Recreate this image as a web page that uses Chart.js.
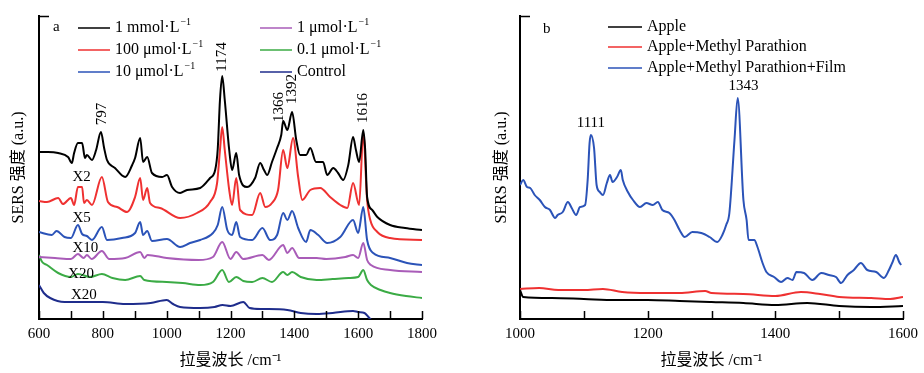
<!DOCTYPE html>
<html>
<head>
<meta charset="utf-8">
<script src="https://cdn.jsdelivr.net/npm/chart.js@4/dist/chart.umd.min.js"></script>
<style>
  body { margin: 0; background: #fff; }
  #wrapA, #wrapB { position: absolute; top: 0; width: 462px; height: 373px; }
  #wrapA { left: 0; }
  #wrapB { left: 462px; }
</style>
</head>
<body>
<div id="wrapA"><canvas id="chartA" width="462" height="373"></canvas></div>
<div id="wrapB"><canvas id="chartB" width="462" height="373"></canvas></div>
<script>
// panel a: Raman shift (cm-1) and intensity (a.u.) per concentration
const wnMm1 = [600, 628, 660, 691, 703, 710, 722, 735, 744, 750, 766, 779, 794, 804, 813, 838, 870, 892, 901, 917, 926, 939, 954, 986, 1001, 1017, 1042, 1064, 1105, 1136, 1152, 1160, 1167, 1174, 1182, 1196, 1205, 1218, 1227, 1252, 1277, 1293, 1305, 1315, 1330, 1346, 1359, 1365, 1378, 1393, 1406, 1418, 1437, 1450, 1468, 1490, 1503, 1522, 1537, 1553, 1569, 1584, 1593, 1603, 1616, 1622, 1628, 1644, 1660, 1700, 1747, 1800];
const valMm1 = [167, 167, 166, 162, 156, 166, 176, 176, 161, 164, 159, 169, 187, 171, 159, 151, 142, 154, 161, 181, 157, 162, 146, 142, 144, 132, 126, 129, 131, 141, 149, 170, 219, 243, 219, 169, 149, 166, 144, 132, 141, 156, 149, 144, 157, 171, 184, 198, 189, 207, 179, 164, 164, 171, 157, 157, 144, 151, 146, 139, 154, 182, 169, 157, 189, 169, 122, 109, 102, 94, 91, 89];

const wnUm100 = [600, 625, 660, 675, 700, 710, 722, 735, 741, 750, 766, 797, 816, 845, 876, 901, 917, 926, 939, 948, 979, 1042, 1095, 1136, 1158, 1167, 1174, 1182, 1196, 1205, 1218, 1230, 1268, 1293, 1309, 1330, 1349, 1365, 1378, 1396, 1412, 1425, 1450, 1481, 1512, 1544, 1566, 1584, 1603, 1616, 1628, 1638, 1660, 1700, 1800];
const valUm100 = [118, 117, 121, 115, 121, 114, 132, 132, 116, 119, 114, 142, 117, 112, 107, 122, 141, 119, 131, 116, 111, 101, 106, 117, 136, 169, 192, 169, 129, 114, 141, 109, 104, 126, 112, 116, 129, 169, 151, 181, 142, 119, 129, 131, 122, 114, 111, 136, 114, 186, 119, 99, 87, 81, 79];

const wnUm10 = [600, 640, 655, 680, 700, 722, 735, 750, 766, 797, 813, 860, 901, 917, 926, 939, 954, 1001, 1042, 1073, 1105, 1145, 1160, 1174, 1190, 1205, 1218, 1230, 1268, 1300, 1324, 1346, 1365, 1378, 1393, 1412, 1437, 1450, 1475, 1503, 1544, 1584, 1600, 1616, 1628, 1647, 1700, 1753, 1800];
const valUm10 = [87, 84, 88, 82, 81, 94, 85, 83, 79, 92, 79, 81, 86, 97, 84, 88, 78, 80, 72, 76, 79, 86, 94, 112, 89, 84, 97, 82, 79, 91, 79, 84, 106, 99, 108, 91, 77, 89, 84, 76, 82, 99, 86, 112, 79, 66, 61, 56, 54];

const wnUm1 = [600, 650, 700, 722, 740, 750, 765, 797, 820, 870, 917, 930, 940, 1000, 1100, 1145, 1174, 1200, 1218, 1240, 1300, 1320, 1365, 1378, 1393, 1415, 1470, 1500, 1560, 1584, 1600, 1616, 1628, 1640, 1700, 1800];
const valUm1 = [62, 61, 60, 65, 61, 64, 60, 68, 60, 61, 67, 61, 64, 61, 59, 62, 77, 60, 67, 60, 64, 59, 74, 66, 71, 61, 61, 60, 62, 64, 61, 76, 59, 54, 49, 47];

const wnUm01 = [600, 610, 625, 660, 700, 722, 760, 797, 830, 870, 917, 930, 1000, 1050, 1105, 1145, 1174, 1195, 1218, 1240, 1268, 1300, 1330, 1365, 1378, 1393, 1420, 1470, 1520, 1570, 1600, 1616, 1628, 1640, 1670, 1700, 1750, 1800];
const valUm01 = [64, 57, 54, 46, 42, 45, 42, 45, 41, 39, 43, 39, 37, 36, 34, 37, 49, 37, 42, 38, 37, 41, 37, 47, 44, 47, 42, 39, 40, 41, 42, 49, 39, 34, 29, 26, 23, 21];

const wnCtrl = [600, 615, 635, 680, 750, 800, 870, 950, 1000, 1020, 1042, 1105, 1150, 1175, 1200, 1240, 1260, 1300, 1378, 1420, 1470, 1520, 1584, 1600, 1620, 1635, 1650];
const valCtrl = [34, 26, 21, 17, 17, 17, 15, 16, 19, 15, 12, 11, 12, 14, 13, 17, 11, 10, 9, 6, 5, 6, 8, 7, 6, 1, -4];

// panel b
const wnApple = [1000, 1005, 1050, 1100, 1150, 1200, 1250, 1300, 1350, 1400, 1450, 1500, 1550, 1600];
const valApple = [29, 22, 21, 20, 19, 19, 18, 17, 16, 14, 16, 13, 12, 13];

const wnMp = [1000, 1030, 1060, 1100, 1130, 1160, 1200, 1250, 1290, 1300, 1350, 1400, 1440, 1470, 1500, 1550, 1580, 1600];
const valMp = [30, 31, 29, 29, 30, 27, 26, 26, 28, 26, 25, 23, 27, 25, 22, 21, 20, 22];

const wnFilm = [1000, 1005, 1011, 1016, 1023, 1031, 1039, 1047, 1055, 1059, 1067, 1075, 1081, 1088, 1094, 1102, 1106, 1109, 1111, 1116, 1120, 1125, 1130, 1136, 1141, 1145, 1152, 1158, 1161, 1169, 1177, 1188, 1198, 1208, 1216, 1223, 1234, 1242, 1250, 1258, 1270, 1284, 1297, 1309, 1317, 1323, 1328, 1336, 1341, 1350, 1355, 1358, 1367, 1372, 1380, 1386, 1398, 1409, 1419, 1427, 1433, 1445, 1458, 1472, 1484, 1495, 1503, 1513, 1523, 1534, 1544, 1558, 1570, 1578, 1583, 1589, 1594, 1597];
const valFilm = [134, 139, 132, 131, 124, 119, 112, 109, 101, 104, 107, 117, 111, 104, 112, 114, 139, 176, 184, 171, 134, 127, 124, 136, 144, 137, 142, 149, 139, 127, 119, 112, 116, 114, 117, 109, 106, 99, 89, 82, 87, 86, 82, 77, 84, 94, 106, 179, 221, 119, 99, 79, 79, 72, 56, 47, 42, 37, 41, 39, 47, 46, 39, 46, 44, 42, 36, 44, 49, 56, 49, 47, 41, 49, 56, 64, 57, 54];

const pts = (xs, ys) => xs.map((x, i) => ({x: x, y: ys[i]}));

const serif = "'Liberation Serif', 'Times New Roman', serif";

function drawLabel(ctx, text, x, y, size) {
    // draws "xxx⁻¹" with a raised small "−1"
    if (text.endsWith('⁻¹')) {
        const base = text.slice(0, -2);
        ctx.font = size + 'px ' + serif;
        ctx.fillText(base, x, y);
        const w = ctx.measureText(base).width;
        ctx.font = Math.round(size * 0.65) + 'px ' + serif;
        ctx.fillText('−1', x + w + 1, y - size * 0.38);
    } else {
        ctx.font = size + 'px ' + serif;
        ctx.fillText(text, x, y);
    }
}

const decor = {
    id: 'decor',
    afterDraw(chart, args, opts) {
        const ctx = chart.ctx;
        const a = chart.chartArea;
        const xs = chart.scales.x;
        const ys = chart.scales.y;
        ctx.save();
        ctx.strokeStyle = '#000';
        ctx.lineWidth = 1.5;
        ctx.beginPath();
        xs.ticks.forEach(t => {
            const px = Math.round(xs.getPixelForValue(t.value)) + 0.5;
            ctx.moveTo(px, a.bottom);
            ctx.lineTo(px, a.bottom - 8);
        });
        ctx.moveTo(a.left, a.top + 0.5);
        ctx.lineTo(a.left + 10, a.top + 0.5);
        ctx.stroke();

        // legend
        ctx.textBaseline = 'middle';
        ctx.textAlign = 'left';
        chart.data.datasets.forEach((ds, i) => {
            const col = Math.floor(i / 3);
            const row = i % 3;
            const lx = opts.legendX[col];
            const ly = opts.legendY[row];
            ctx.strokeStyle = ds.borderColor;
            ctx.lineWidth = 1.5;
            ctx.beginPath();
            ctx.moveTo(lx, ly);
            ctx.lineTo(lx + opts.legendLine, ly);
            ctx.stroke();
            ctx.fillStyle = '#000';
            drawLabel(ctx, ds.label, lx + opts.legendLine + 5, ly, 16);
        });

        // peak and scale notes
        ctx.fillStyle = '#000';
        ctx.font = '15px ' + serif;
        opts.notes.forEach(n => {
            const px = xs.getPixelForValue(n.x);
            const py = ys.getPixelForValue(n.y);
            ctx.save();
            ctx.translate(px, py);
            if (n.rot) ctx.rotate(-Math.PI / 2);
            ctx.textAlign = n.align || 'center';
            ctx.textBaseline = 'middle';
            ctx.fillText(n.text, 0, 0);
            ctx.restore();
        });
        ctx.restore();
    }
};

function line(label, color, data) {
    return {
        label: label,
        data: data,
        borderColor: color,
        borderWidth: 2,
        pointRadius: 0,
        cubicInterpolationMode: 'monotone',
        fill: false
    };
}

function options(xMin, xMax, rightPad, yWidth, yTitlePad, decorOpts) {
    return {
        responsive: false,
        animation: false,
        layout: { padding: { top: 16, right: rightPad, left: 0, bottom: 0 } },
        scales: {
            x: {
                type: 'linear',
                min: xMin,
                max: xMax,
                afterFit: s => { s.height = 54; },
                border: { color: '#000', width: 2 },
                grid: { drawOnChartArea: false, drawTicks: false },
                ticks: {
                    stepSize: 100,
                    autoSkip: false,
                    maxRotation: 0,
                    padding: 6,
                    color: '#000',
                    font: { family: serif, size: 15 },
                    callback: v => (v % 200 === 0 ? v : '')
                },
                title: {
                    display: true,
                    text: '拉曼波长 /cm⁻¹',
                    color: '#000',
                    padding: { top: 0, bottom: 3 },
                    font: { family: "'Liberation Serif', 'Noto Sans CJK SC'", size: 16 }
                }
            },
            y: {
                min: 0,
                max: 303,
                afterFit: s => { s.width = yWidth; },
                border: { color: '#000', width: 2 },
                grid: { drawOnChartArea: false, drawTicks: false },
                ticks: { display: false },
                title: {
                    display: true,
                    text: 'SERS 强度 (a.u.)',
                    color: '#000',
                    padding: { top: yTitlePad, bottom: 0 },
                    font: { family: "'Liberation Serif', 'Noto Sans CJK SC'", size: 16 }
                }
            }
        },
        plugins: {
            legend: { display: false },
            tooltip: { enabled: false },
            decor: decorOpts
        }
    };
}

new Chart(document.getElementById('chartA').getContext('2d'), {
    type: 'line',
    data: {
        datasets: [
            line('1 mmol·L⁻¹', '#000000', pts(wnMm1, valMm1)),
            line('100 μmol·L⁻¹', '#ef3131', pts(wnUm100, valUm100)),
            line('10 μmol·L⁻¹', '#2b53b8', pts(wnUm10, valUm10)),
            line('1 μmol·L⁻¹', '#a95cb8', pts(wnUm1, valUm1)),
            line('0.1 μmol·L⁻¹', '#3bab45', pts(wnUm01, valUm01)),
            line('Control', '#1f2d8c', pts(wnCtrl, valCtrl))
        ]
    },
    options: options(600, 1800, 40, 39, 9, {
        legendX: [78, 260],
        legendY: [28, 50, 72],
        legendLine: 32,
        notes: [
            { text: 'a', x: 644, y: 292, align: 'left' },
            { text: '797', x: 797, y: 205, rot: true },
            { text: '1174', x: 1174, y: 262, rot: true },
            { text: '1366', x: 1352, y: 212, rot: true },
            { text: '1392', x: 1393, y: 230, rot: true },
            { text: '1616', x: 1616, y: 211, rot: true },
            { text: 'X2', x: 705, y: 142, align: 'left' },
            { text: 'X5', x: 705, y: 101, align: 'left' },
            { text: 'X10', x: 705, y: 71, align: 'left' },
            { text: 'X20', x: 691, y: 45, align: 'left' },
            { text: 'X20', x: 700, y: 24, align: 'left' }
        ]
    }),
    plugins: [decor]
});

new Chart(document.getElementById('chartB').getContext('2d'), {
    type: 'line',
    data: {
        datasets: [
            line('Apple', '#000000', pts(wnApple, valApple)),
            line('Apple+Methyl Parathion', '#ef3131', pts(wnMp, valMp)),
            line('Apple+Methyl Parathion+Film', '#2b53b8', pts(wnFilm, valFilm))
        ]
    },
    options: options(1000, 1600, 20, 58, 30, {
        legendX: [146],
        legendY: [27, 47, 68],
        legendLine: 34,
        notes: [
            { text: 'b', x: 1036, y: 290, align: 'left' },
            { text: '1111', x: 1111, y: 196 },
            { text: '1343', x: 1350, y: 233 }
        ]
    }),
    plugins: [decor]
});
</script>
</body>
</html>
